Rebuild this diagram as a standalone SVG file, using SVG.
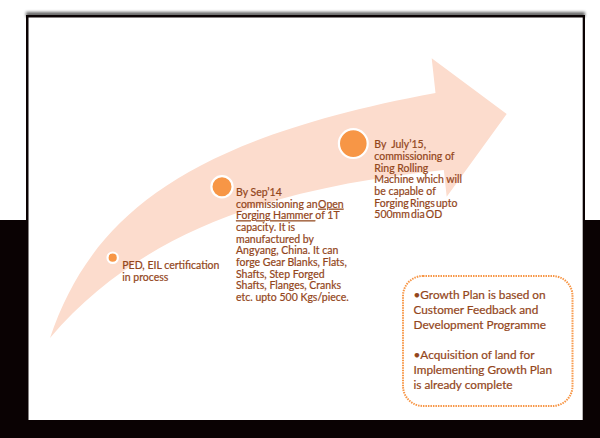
<svg xmlns="http://www.w3.org/2000/svg" width="600" height="438" viewBox="0 0 600 438">
  <style>
    .t { font-family: Lato, "Liberation Sans", Arial, sans-serif; font-size: 10.5px; fill: #93461b; stroke: #93461b; stroke-width: 0.2; }
    .b { font-family: Lato, "Liberation Sans", Arial, sans-serif; font-size: 11.8px; fill: #93461b; stroke: #93461b; stroke-width: 0.2; }
    .dot { fill: #f79646; stroke: #ffffff; stroke-width: 2.2; }
    .u { text-decoration: underline; }
  </style>
  <defs>
    <filter id="blur" x="-5%" y="-200%" width="110%" height="500%">
      <feGaussianBlur stdDeviation="1.5"/>
    </filter>
  </defs>
  <!-- background -->
  <rect x="0" y="0" width="600" height="438" fill="#ffffff"/>
  <rect x="0" y="220" width="600" height="218" fill="#0a0203"/>
  <!-- slide frame -->
  <rect x="26" y="12" width="559" height="5" fill="#000" opacity="0.6" filter="url(#blur)"/>
  <rect x="26" y="15" width="559" height="423" fill="#0a0203"/>
  <rect x="28.5" y="17.5" width="554.2" height="402.5" fill="#ffffff"/>

  <g id="connectors">
    <path d="M50,338 C90,220 180,140 435.5,93 L431.7,58.3 L506.7,114 L446.7,196.7 L443.8,170 C300,185 150,220 50,338 Z" fill="#fcdccd"/>
  </g>

  <g id="node-ped">
    <circle class="dot" cx="112.7" cy="257.7" r="5.2"/>
    <text class="t" x="122.3" y="269">PED, EIL certification</text>
    <text class="t" x="122.3" y="280.5">in process</text>
  </g>

  <g id="node-sep14">
    <circle class="dot" cx="222" cy="186.7" r="10.6"/>
    <text class="t" x="236" y="196">By Sep’14</text>
    <text class="t" x="236" y="207.7">commissioning an<tspan class="u" dx="0.5">Open</tspan></text>
    <text class="t" x="236" y="219.3"><tspan class="u">Forging Hammer </tspan>of 1T</text>
    <text class="t" x="236" y="231">capacity. It is</text>
    <text class="t" x="236" y="242.7">manufactured by</text>
    <text class="t" x="236" y="254.3">Angyang, China. It can</text>
    <text class="t" x="236" y="266">forge Gear Blanks, Flats,</text>
    <text class="t" x="236" y="277.7">Shafts, Step Forged</text>
    <text class="t" x="236" y="289.3">Shafts, Flanges, Cranks</text>
    <text class="t" x="236" y="301">etc. upto 500 Kgs/piece.</text>
  </g>

  <g id="node-july15">
    <circle class="dot" cx="353.3" cy="143.6" r="14.4"/>
    <text class="t" x="374.3" y="148.3" style="white-space:pre">By  July’15,</text>
    <text class="t" x="374.3" y="160">commissioning of</text>
    <text class="t" x="374.3" y="171.7">Ring Rolling</text>
    <text class="t" x="374.3" y="183.3">Machine which will</text>
    <text class="t" x="374.3" y="195">be capable of</text>
    <text class="t" x="374.3" y="206.7" word-spacing="-1.5">Forging Rings upto</text>
    <text class="t" x="374.3" y="218.3" word-spacing="-1.5">500mm dia OD</text>
  </g>

  <g id="box">
    <rect x="403" y="276" width="169.5" height="130" rx="20" ry="20" fill="none" stroke="#f79646" stroke-width="2" stroke-dasharray="1.5 1"/>
    <text class="b" x="413.5" y="299.3">•Growth Plan is based on</text>
    <text class="b" x="413.5" y="314.3">Customer Feedback and</text>
    <text class="b" x="413.5" y="329.3">Development Programme</text>
    <text class="b" x="413.5" y="359.3">•Acquisition of land for</text>
    <text class="b" x="413.5" y="374.3">Implementing Growth Plan</text>
    <text class="b" x="413.5" y="389.3">is already complete</text>
  </g>
</svg>
